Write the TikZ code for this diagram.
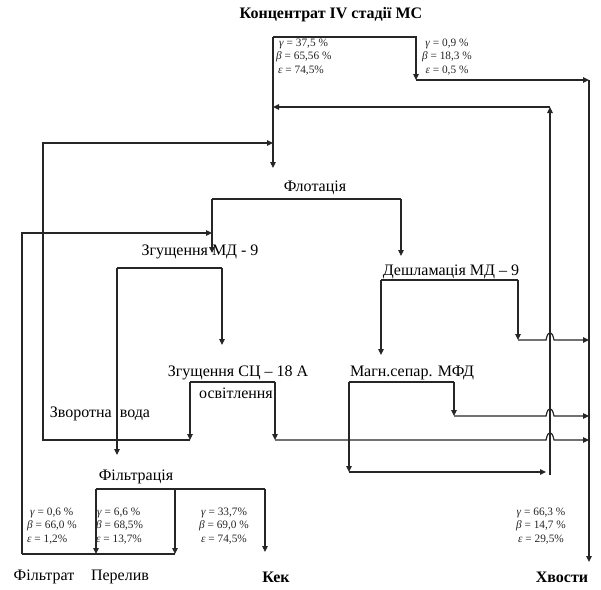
\documentclass[tikz,border=0pt]{standalone}
\usepackage{fontspec}
\setmainfont{Liberation Serif}
\usetikzlibrary{arrows.meta}
\begin{document}
\begin{tikzpicture}[x=1pt,y=-1pt,
 ln/.style={draw=black!85,line width=1.2pt},
 arr/.style={-{Triangle[length=6pt,width=5.5pt]}},
 lbl/.style={inner sep=0pt,font=\fontsize{16}{18}\selectfont},
 bl/.style={inner sep=0pt,font=\bfseries\fontsize{16}{18}\selectfont},
 st/.style={inner sep=0pt,font=\fontsize{11.3}{13.5}\selectfont,align=center,text=black!85}]
\useasboundingbox (0,0) rectangle (601,589);
% texts
\node[bl] (title) at (331,15) {Концентрат IV стадії МС};
\node[st,align=left,anchor=west] (s1) at (276,57) {\hspace{3pt}\textit{γ} = 37,5 \%\\\textit{β} = 65,56 \%\\\hspace{2pt}\textit{ε} = 74,5\%};
\node[st] (s2) at (447,57) {\textit{γ} = 0,9 \%\\\textit{β} = 18,3 \%\\\textit{ε} = 0,5 \%};
\node[lbl] (flot) at (315,188) {Флотація};
\node[lbl] (zg1) at (200,252) {Згущення МД - 9};
\node[lbl] (desh) at (451,272) {Дешламація МД – 9};
\node[lbl] (zg2) at (238,373) {Згущення СЦ – 18 А};
\node[lbl] (osv) at (236,393) {освітлення};
\node[lbl] (magn) at (412,373) {Магн.сепар. МФД};
\node[lbl] (zvor) at (100,414) {Зворотна\ \ вода};
\node[lbl] (filt) at (136,477) {Фільтрація};
\node[st,align=left,anchor=west] (s3) at (27,526) {\hspace{3pt}\textit{γ} = 0,6 \%\\\textit{β} = 66,0 \%\\\textit{ε} = 1,2\%};
\node[st,align=left,anchor=west] (s4) at (96,526) {\hspace{1pt}\textit{γ} = 6,6 \%\\\textit{β} = 68,5\%\\\textit{ε} = 13,7\%};
\node[st] (s5) at (224,526) {\textit{γ} = 33,7\%\\\textit{β} = 69,0 \%\\\textit{ε} = 74,5\%};
\node[st] (s6) at (541,526) {\textit{γ} = 66,3 \%\\\textit{β} = 14,7 \%\\\textit{ε} = 29,5\%};
\node[lbl] (fr) at (44,577) {Фільтрат};
\node[lbl] (per) at (120,577) {Перелив};
\node[bl] (kek) at (276,577) {Кек};
\node[bl] (xv) at (562,577) {Хвости};
% junction coordinates
\coordinate (a1) at (273,37); \coordinate (a2) at (416,37); \coordinate (a3) at (416,80);
\coordinate (a4) at (589,80); \coordinate (a5) at (589,562); \coordinate (a6) at (273,168);
\coordinate (b1) at (550,475); \coordinate (b2) at (550,107); \coordinate (b3) at (273,107);
\coordinate (c1) at (190,440); \coordinate (c2) at (43,440); \coordinate (c3) at (43,143); \coordinate (c4) at (273,143);
\coordinate (f1) at (212,199); \coordinate (f2) at (401,199); \coordinate (f3) at (212,253); \coordinate (f4) at (401,256);
\coordinate (g1) at (22,554); \coordinate (g2) at (22,233); \coordinate (g3) at (212,233);
\coordinate (h1) at (117,268); \coordinate (h2) at (222,268); \coordinate (h3) at (222,345); \coordinate (h4) at (117,455);
\coordinate (k1) at (190,382); \coordinate (k2) at (275,382); \coordinate (k3) at (275,440); \coordinate (k4) at (589,440);
\coordinate (d1) at (381,280); \coordinate (d2) at (518,280); \coordinate (d3) at (518,340); \coordinate (d4) at (589,340); \coordinate (d5) at (381,355);
\coordinate (m1) at (349,382); \coordinate (m2) at (454,382); \coordinate (m3) at (454,416); \coordinate (m4) at (589,416);
\coordinate (m5) at (349,472); \coordinate (m6) at (546,472);
\coordinate (p1) at (96,489); \coordinate (p2) at (265,489); \coordinate (p3) at (96,554);
\coordinate (p4) at (175,489); \coordinate (p5) at (175,554); \coordinate (p6) at (265,552);
% connectors
\draw[ln,arr] (a1) -- (a2) -- (a3);
\draw[ln,arr] (a3) -- (a4);
\draw[ln,arr] (a4) -- (a5);
\draw[ln,arr] (a1) -- (a6);
\draw[ln,arr] (b1) -- (b2);
\draw[ln,arr] (b2) -- (b3);
\draw[ln,arr] (c1) -- (c2) -- (c3) -- (c4);
\draw[ln] (f1) -- (f2);
\draw[ln,arr] (f1) -- (f3);
\draw[ln,arr] (f2) -- (f4);
\draw[ln,arr] (g1) -- (g2) -- (g3);
\draw[ln] (h1) -- (h2);
\draw[ln,arr] (h2) -- (h3);
\draw[ln,arr] (h1) -- (h4);
\draw[ln] (k1) -- (k2);
\draw[ln,arr] (k1) -- (c1);
\draw[ln,arr] (k2) -- (k3);
\draw[ln,arr] (k3) -- (546,440) .. controls (548,430) and (552,430) .. (554,440) -- (k4);
\draw[ln] (d1) -- (d2);
\draw[ln,arr] (d2) -- (d3);
\draw[ln,arr] (d3) -- (546,340) .. controls (548,330) and (552,330) .. (554,340) -- (d4);
\draw[ln,arr] (d1) -- (d5);
\draw[ln] (m1) -- (m2);
\draw[ln,arr] (m2) -- (m3);
\draw[ln,arr] (m3) -- (546,416) .. controls (548,406) and (552,406) .. (554,416) -- (m4);
\draw[ln,arr] (m1) -- (m5);
\draw[ln,arr] (m5) -- (m6);
\draw[ln] (p1) -- (p2);
\draw[ln,arr] (p1) -- (p3);
\draw[ln,arr] (p4) -- (p5);
\draw[ln,arr] (p2) -- (p6);
\draw[ln] (g1) -- (p5);
\end{tikzpicture}
\end{document}
